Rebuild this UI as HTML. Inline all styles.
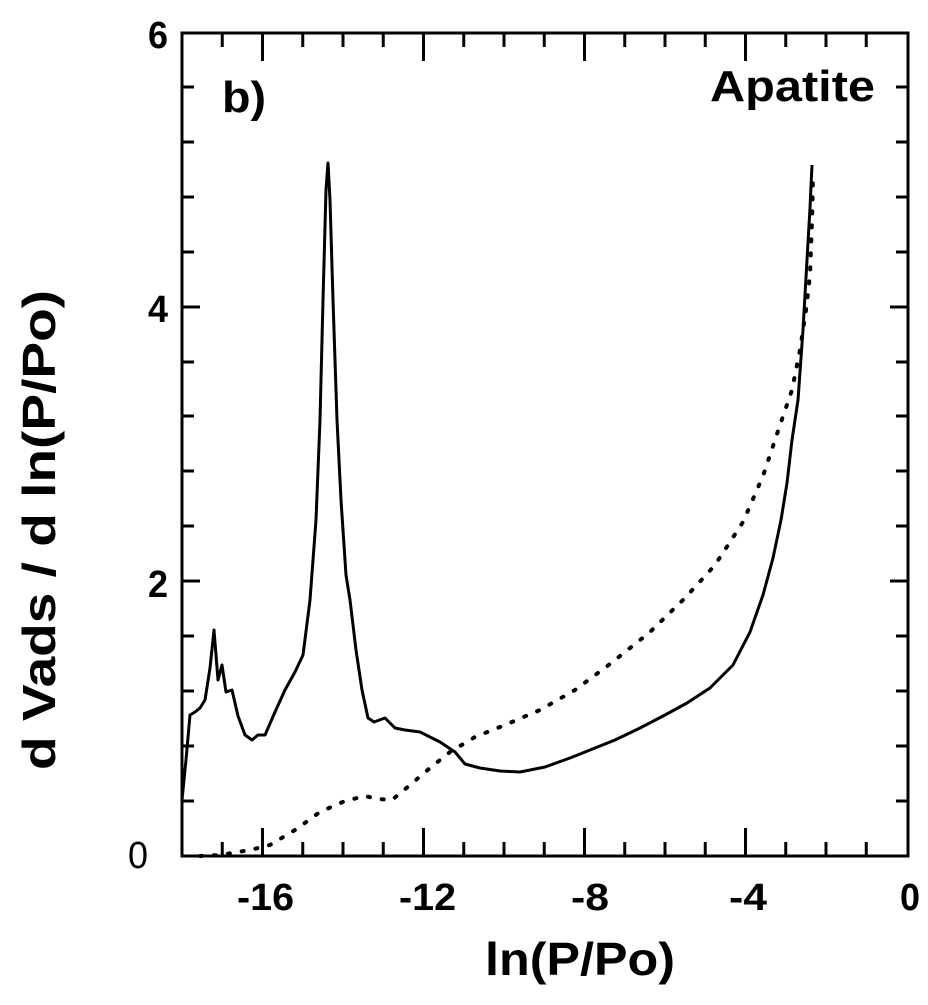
<!DOCTYPE html>
<html><head><style>body{margin:0;background:#fff}</style></head><body>
<svg width="928" height="1000" xmlns="http://www.w3.org/2000/svg" font-family="Liberation Sans, Arial, sans-serif" font-weight="bold">
<rect width="928" height="1000" fill="#fff"/>
<g stroke="#000" stroke-width="3" fill="none">
<rect x="182" y="33" width="726" height="823"/>
<path d="M222.25,856v-14M262.5,856v-28M302.75,856v-14M343,856v-14M383.25,856v-14M423.5,856v-28M463.75,856v-14M504,856v-14M544.25,856v-14M584.5,856v-28M624.75,856v-14M665,856v-14M705.25,856v-14M745.5,856v-28M785.75,856v-14M826,856v-14M866.25,856v-14"/>
<path d="M222.25,33v14M262.5,33v28M302.75,33v14M343,33v14M383.25,33v14M423.5,33v28M463.75,33v14M504,33v14M544.25,33v14M584.5,33v28M624.75,33v14M665,33v14M705.25,33v14M745.5,33v28M785.75,33v14M826,33v14M866.25,33v14"/>
<path d="M182,801h12M182,746h12M182,691h12M182,636h12M182,581h18M182,526h12M182,471h12M182,416h12M182,362h12M182,307h18M182,252h12M182,197h12M182,142h12M182,87h12"/>
<path d="M908,801h-12M908,746h-12M908,691h-12M908,636h-12M908,581h-18M908,526h-12M908,471h-12M908,416h-12M908,362h-12M908,307h-18M908,252h-12M908,197h-12M908,142h-12M908,87h-12"/>
</g>
<path fill="none" stroke="#000" stroke-width="3" stroke-linejoin="round" d="M182,800 L186,760 L190,715 L195,712 L200,708 L205,700 L210,668 L214,630 L218,680 L222,665 L226,692 L232,690 L238,716 L245,735 L252,740 L258,735 L265,735 L275,712 L285,690 L295,672 L303,655 L310,600 L316,520 L320,420 L323,300 L326,190 L328,163 L330,200 L333,300 L337,420 L341,500 L346,575 L350,600 L356,650 L362,690 L368,718 L374,722 L385,718 L395,728 L405,730 L420,732 L440,742 L455,752 L465,764 L480,768 L500,771 L520,772 L545,767 L570,758 L590,750 L615,740 L640,728 L665,715 L687,703 L710,688 L733,665 L750,632 L763,595 L773,558 L781,520 L787,483 L792,440 L798,400 L803,330 L807,260 L810,208 L812,165"/>
<path fill="none" stroke="#000" stroke-width="4" stroke-dasharray="2,12" stroke-linecap="round" d="M200,856 L220,855 L250,850 L270,845 L295,830 L320,812 L345,801 L365,796 L378,799 L392,800 L410,785 L430,768 L450,752 L475,737 L505,725 L540,710 L575,690 L610,664 L650,632 L685,598 L715,565 L743,522 L763,476 L780,425 L792,390 L800,350 L806,310 L810,275 L812,220 L813,175"/>
<text x="222" y="112" font-size="44" textLength="44" lengthAdjust="spacingAndGlyphs">b)</text>
<text x="710" y="101" font-size="44" textLength="165" lengthAdjust="spacingAndGlyphs">Apatite</text>
<g font-size="38">
<text x="237" y="910" textLength="57" lengthAdjust="spacingAndGlyphs">-16</text>
<text x="399" y="910" textLength="57" lengthAdjust="spacingAndGlyphs">-12</text>
<text x="571" y="910" textLength="38" lengthAdjust="spacingAndGlyphs">-8</text>
<text x="729" y="910" textLength="38" lengthAdjust="spacingAndGlyphs">-4</text>
<text x="900" y="910" textLength="20" lengthAdjust="spacingAndGlyphs">0</text>
</g>
<g font-size="38">
<text x="128" y="868" textLength="20" lengthAdjust="spacingAndGlyphs" font-weight="normal">0</text>
<text x="148" y="597" textLength="20" lengthAdjust="spacingAndGlyphs">2</text>
<text x="148" y="322" textLength="20" lengthAdjust="spacingAndGlyphs">4</text>
<text x="148" y="48" textLength="20" lengthAdjust="spacingAndGlyphs">6</text>
</g>
<text x="485" y="975" font-size="46" textLength="190" lengthAdjust="spacingAndGlyphs">ln(P/Po)</text>
<text transform="translate(55,770) rotate(-90)" font-size="46" textLength="480" lengthAdjust="spacingAndGlyphs">d Vads / d ln(P/Po)</text>
</svg>
</body></html>
